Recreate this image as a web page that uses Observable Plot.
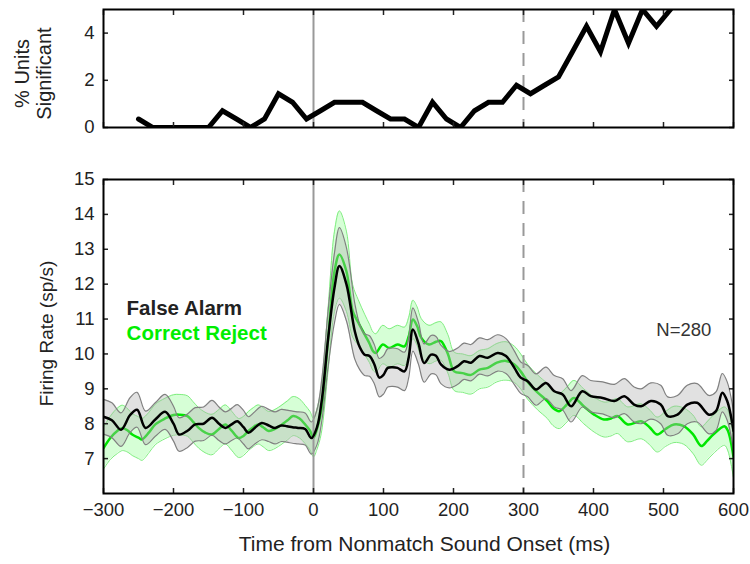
<!DOCTYPE html>
<html>
<head>
<meta charset="utf-8">
<script src="https://cdn.jsdelivr.net/npm/d3@7"></script>
<script src="https://cdn.jsdelivr.net/npm/@observablehq/plot@0.6"></script>
<style>
  body { margin: 0; background: #fff; }
  #chart { position: relative; width: 750px; height: 564px; background: #fff; }
  #chart svg { display: block; }
</style>
</head>
<body>
<div id="chart"></div>
<script>
// ---------- Data ----------
const sigTime = [-250,-230,-210,-190,-170,-150,-130,-110,-90,-70,-50,-30,-10,10,30,50,70,90,110,130,150,170,190,210,230,250,270,290,310,330,350,370,390,410,430,450,470,490,510];
const sigPct  = [0.36,0,0,0,0,0,0.71,0.36,0,0.36,1.43,1.07,0.36,0.71,1.07,1.07,1.07,0.71,0.36,0.36,0,1.07,0.36,0,0.71,1.07,1.07,1.79,1.43,1.79,2.14,3.21,4.29,3.21,5.0,3.57,5.0,4.29,5.0];

// False Alarm (black) mean firing rate and SEM
const faTime = [-300,-288,-275,-262,-252,-240,-226,-212,-200,-192,-180,-169,-157,-145,-135,-126,-117,-109,-100,-93,-84,-74,-64,-55,-46,-38,-30,-22,-12,-3,5,12,21,30,37,47,59,66,73,80,87,94,100,106,113,120,130,136,142,150,158,168,175,182,194,206,215,225,237,249,263,275,287,296,306,318,332,344,356,368,384,396,413,430,444,458,468,482,496,506,520,534,548,565,575,584,591,600];
const faMean = [8.20,8.10,7.83,8.25,8.40,7.88,8.12,8.34,8.00,7.69,7.80,7.98,8.00,8.17,8.00,7.88,7.98,8.07,7.90,7.74,7.88,8.02,7.95,7.88,7.95,7.93,7.90,7.88,7.85,7.59,7.90,8.70,10.46,11.90,12.52,12.00,10.65,10.20,9.98,9.94,9.70,9.32,9.40,9.60,9.62,9.60,9.50,9.90,10.70,10.30,9.74,9.98,9.95,9.70,9.55,9.65,9.79,9.75,9.94,9.89,10.03,9.94,9.60,9.32,9.22,8.98,9.17,8.93,8.84,8.50,8.93,8.79,8.74,8.65,8.79,8.55,8.50,8.65,8.55,8.22,8.26,8.55,8.60,8.26,8.36,8.89,8.65,7.80];
const faSem  = [0.50,0.50,0.48,0.50,0.50,0.48,0.48,0.50,0.50,0.48,0.48,0.48,0.48,0.50,0.48,0.46,0.46,0.48,0.48,0.46,0.46,0.48,0.46,0.46,0.46,0.46,0.46,0.46,0.46,0.46,0.50,0.60,0.80,1.00,1.10,1.05,0.80,0.65,0.60,0.58,0.56,0.55,0.55,0.55,0.55,0.55,0.55,0.58,0.62,0.60,0.55,0.55,0.55,0.55,0.52,0.52,0.52,0.52,0.52,0.52,0.52,0.50,0.48,0.45,0.45,0.45,0.45,0.45,0.45,0.45,0.45,0.45,0.46,0.48,0.50,0.50,0.50,0.52,0.55,0.55,0.55,0.55,0.55,0.55,0.55,0.55,0.55,0.55];

// Correct Reject (green) mean firing rate and SEM
const crTime = [-300,-290,-280,-273,-265,-259,-250,-245,-235,-226,-212,-200,-192,-180,-172,-164,-155,-145,-135,-126,-117,-107,-100,-93,-86,-79,-72,-64,-55,-45,-37,-29,-20,-12,-5,0,5,11,21,30,37,47,56,64,73,80,85,89,99,108,120,130,136,142,148,154,165,175,182,192,201,213,225,237,249,262,275,287,296,306,320,334,342,351,362,372,386,401,415,425,434,449,468,480,491,503,515,529,542,554,562,571,587,592,600];
const crMean = [7.30,7.60,7.80,7.88,7.80,7.69,7.60,7.55,7.75,7.98,8.15,8.25,8.26,8.22,8.05,7.88,7.75,7.69,7.85,7.98,7.80,7.59,7.65,7.79,7.90,7.98,7.90,7.79,7.85,7.98,8.10,8.22,8.15,7.98,7.80,7.60,7.85,8.36,10.46,12.37,12.85,12.37,11.23,10.90,10.56,10.30,10.08,10.03,10.27,10.17,10.27,10.22,10.50,10.99,10.80,10.46,10.27,10.35,10.37,10.00,9.50,9.45,9.40,9.55,9.60,9.75,9.80,9.70,9.50,9.20,8.90,8.65,8.45,8.36,8.55,8.74,8.50,8.26,8.12,8.15,8.22,7.98,8.07,7.90,7.69,7.85,7.98,7.93,7.70,7.36,7.50,7.69,7.93,7.80,7.05];
const crSem  = [0.60,0.62,0.65,0.65,0.62,0.60,0.60,0.60,0.58,0.58,0.58,0.58,0.58,0.58,0.58,0.58,0.58,0.58,0.56,0.56,0.56,0.56,0.56,0.56,0.56,0.56,0.56,0.56,0.56,0.56,0.56,0.56,0.56,0.55,0.55,0.55,0.58,0.65,0.90,1.15,1.25,1.15,0.75,0.65,0.58,0.55,0.55,0.55,0.55,0.55,0.55,0.55,0.55,0.55,0.55,0.55,0.55,0.55,0.55,0.55,0.55,0.55,0.55,0.55,0.55,0.55,0.55,0.52,0.50,0.50,0.50,0.50,0.50,0.50,0.50,0.50,0.50,0.50,0.50,0.50,0.50,0.50,0.50,0.50,0.50,0.50,0.52,0.52,0.55,0.55,0.55,0.55,0.55,0.58,0.60];

const xTicks = [-300,-200,-100,0,100,200,300,400,500,600];
const sigTicks = [0,2,4];
const rateTicks = [7,8,9,10,11,12,13,14,15];
const onsetTime = [0];
const offsetTime = [300];
const seriesNames = ["False Alarm","Correct Reject"];
const nLabel = ["N=280"];

// ---------- Build tables ----------
const sig = sigTime.map((t,i)=>({t, v: sigPct[i]}));
const fa = faTime.map((t,i)=>({t, m: faMean[i], lo: faMean[i]-faSem[i], hi: faMean[i]+faSem[i]}));
const cr = crTime.map((t,i)=>({t, m: crMean[i], lo: crMean[i]-crSem[i], hi: crMean[i]+crSem[i]}));

const font = "'Liberation Sans', Arial, Helvetica, sans-serif";
const baseStyle = {fontFamily: font, fontSize: "18.5px", color: "#222", background: "#fff", overflow: "visible"};
const xDomain = [-300, 600];
const curve = "catmull-rom";
const blank = () => "";

const topPlot = Plot.plot({
  width: 750, height: 140,
  marginLeft: 103, marginRight: 17, marginTop: 9, marginBottom: 13,
  style: baseStyle,
  x: {domain: xDomain},
  y: {domain: [0, 5]},
  marks: [
    Plot.ruleX(onsetTime, {stroke: "#999", strokeWidth: 2}),
    Plot.ruleX(offsetTime, {stroke: "#999", strokeWidth: 2, strokeDasharray: "13,9"}),
    Plot.line(sig, {x: "t", y: "v", stroke: "#000", strokeWidth: 5, strokeLinejoin: "miter", strokeMiterlimit: 10, clip: true}),
    Plot.axisY(sigTicks, {anchor: "left", tickSize: -5, tickPadding: 14, strokeWidth: 1.5, label: null}),
    Plot.axisY(sigTicks, {anchor: "right", tickSize: -5, tickFormat: blank, strokeWidth: 1.5, label: null}),
    Plot.axisX(xTicks, {anchor: "top", tickSize: -5, tickFormat: blank, strokeWidth: 1.5, label: null}),
    Plot.axisX(xTicks, {anchor: "bottom", tickSize: -5, tickFormat: blank, strokeWidth: 1.5, label: null}),
    Plot.frame({stroke: "#000", strokeWidth: 2}),
    Plot.text(["% Units\nSignificant"], {frameAnchor: "left", textAnchor: "middle", rotate: -90, dx: -71, dy: 5, fontSize: 20, lineHeight: 1.1, fill: "#222"})
  ]
});

const bottomPlot = Plot.plot({
  width: 750, height: 424,
  marginLeft: 103, marginRight: 17, marginTop: 39, marginBottom: 71,
  style: baseStyle,
  x: {domain: xDomain},
  y: {domain: [6, 15]},
  marks: [
    // Correct Reject band + line
    Plot.areaY(cr, {x: "t", y1: "lo", y2: "hi", fill: "#00ff00", fillOpacity: 0.16, curve, clip: true}),
    Plot.line(cr, {x: "t", y: "hi", stroke: "#80ee80", strokeWidth: 1, curve, clip: true}),
    Plot.line(cr, {x: "t", y: "lo", stroke: "#80ee80", strokeWidth: 1, curve, clip: true}),
    Plot.line(cr, {x: "t", y: "m", stroke: "#00e600", strokeWidth: 2.5, curve, clip: true}),
    // False Alarm band
    Plot.areaY(fa, {x: "t", y1: "lo", y2: "hi", fill: "#b4b4b4", fillOpacity: 0.4, curve, clip: true}),
    Plot.line(fa, {x: "t", y: "hi", stroke: "#808080", strokeWidth: 1.2, curve, clip: true}),
    Plot.line(fa, {x: "t", y: "lo", stroke: "#808080", strokeWidth: 1.2, curve, clip: true}),
    Plot.ruleX(onsetTime, {stroke: "#999", strokeWidth: 2}),
    Plot.ruleX(offsetTime, {stroke: "#999", strokeWidth: 2, strokeDasharray: "13,9"}),
    Plot.line(fa, {x: "t", y: "m", stroke: "#000", strokeWidth: 2.5, curve, clip: true}),
    // axes
    Plot.axisY(rateTicks, {anchor: "left", tickSize: -5, tickPadding: 14, strokeWidth: 1.5, label: null}),
    Plot.axisY(rateTicks, {anchor: "right", tickSize: -5, tickFormat: blank, strokeWidth: 1.5, label: null}),
    Plot.axisX(xTicks, {anchor: "top", tickSize: -5, tickFormat: blank, strokeWidth: 1.5, label: null}),
    Plot.axisX(xTicks, {anchor: "bottom", tickSize: -5, tickPadding: 14, strokeWidth: 1.5, label: null, tickFormat: d => d < 0 ? "\u2212" + Math.abs(d) : String(d)}),
    Plot.frame({stroke: "#000", strokeWidth: 2}),
    // legend & annotation
    Plot.text([seriesNames[0]], {x: -267, y: 11.3, textAnchor: "start", fontWeight: "bold", fontSize: 20.5, fill: "#222"}),
    Plot.text([seriesNames[1]], {x: -267, y: 10.59, textAnchor: "start", fontWeight: "bold", fontSize: 20.5, fill: "#00ee00"}),
    Plot.text(nLabel, {x: 529, y: 10.67, fontSize: 18.5, fill: "#333"}),
    // axis titles
    Plot.text(["Firing Rate (sp/s)"], {frameAnchor: "left", textAnchor: "middle", rotate: -90, dx: -57, dy: -3, fontSize: 19, fill: "#222"}),
    Plot.text(["Time from Nonmatch Sound Onset (ms)"], {frameAnchor: "bottom", dx: 6, dy: 57, fontSize: 21, fill: "#222"})
  ]
});

const root = document.getElementById("chart");
root.appendChild(topPlot);
root.appendChild(bottomPlot);
</script>
</body>
</html>
